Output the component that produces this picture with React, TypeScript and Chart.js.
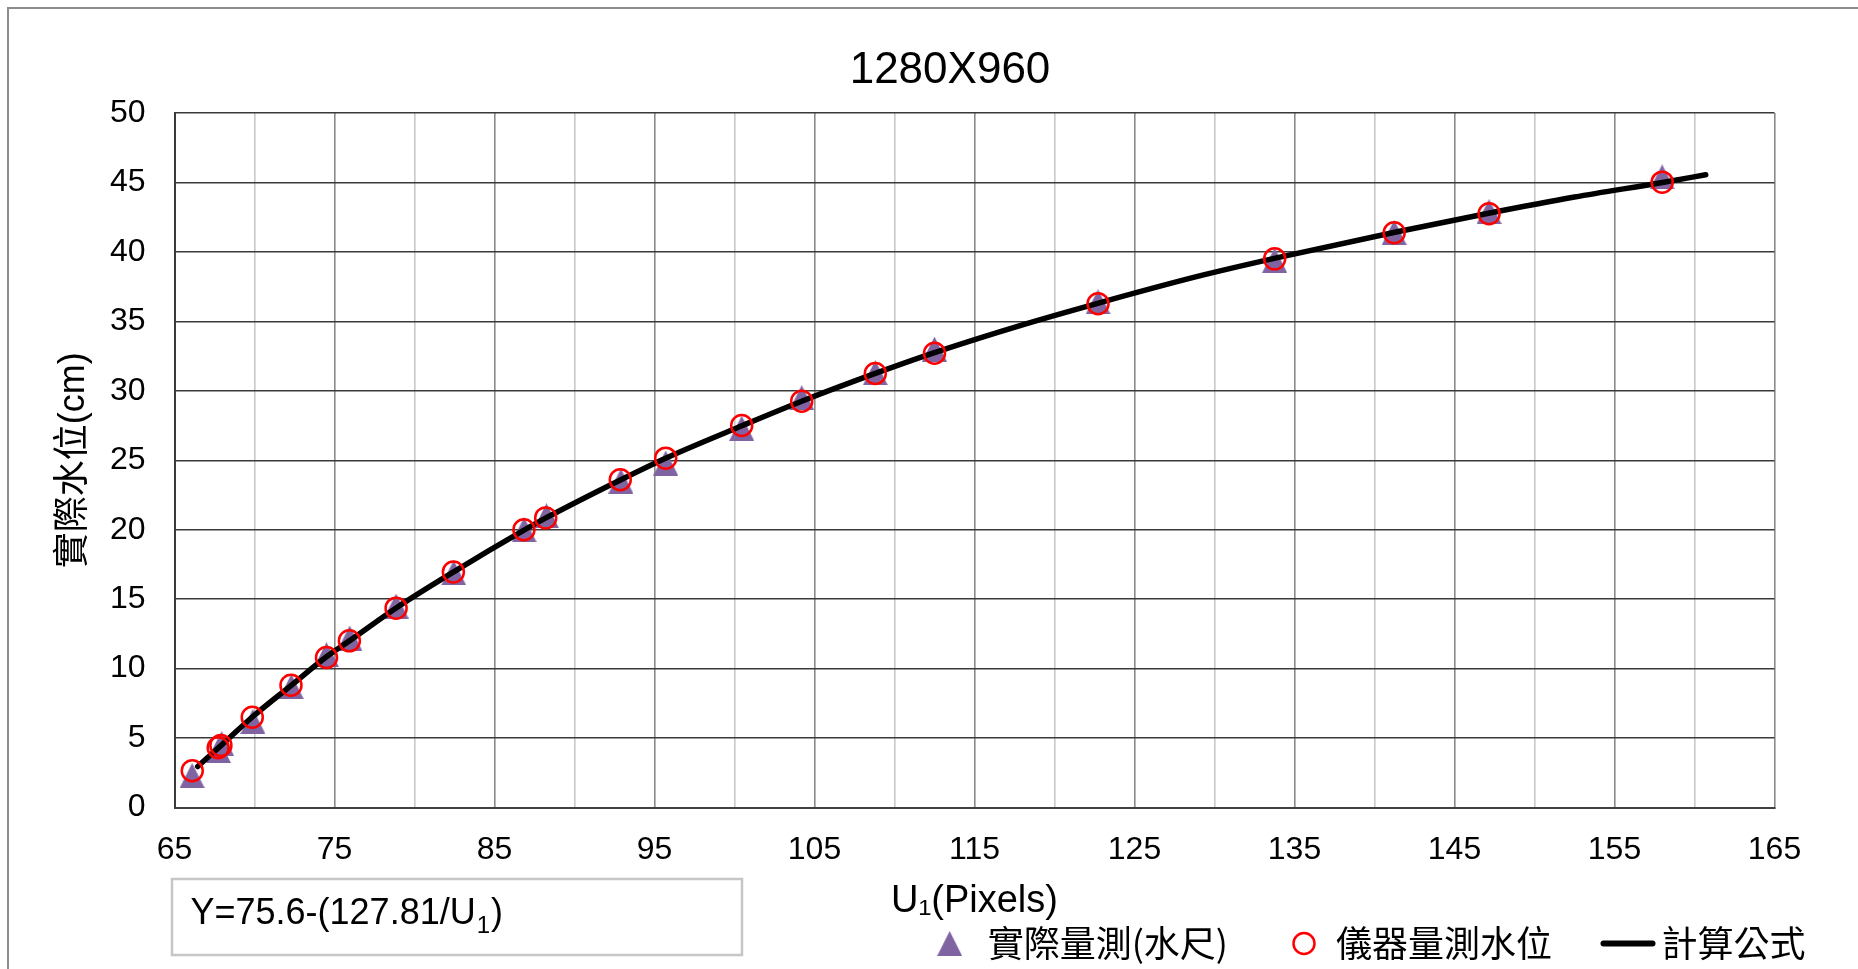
import React, { useEffect, useRef } from 'react';
import { Chart, registerables } from 'chart.js';

Chart.register(...registerables);

// ---- text ----
const chartTitle = '1280X960';
const xAxisTitle = 'U\u2081(Pixels)';
const yAxisTitle = '實際水位(cm)';
const seriesNames = ['實際量測(水尺)', '儀器量測水位', '計算公式'];
const formulaMain = 'Y=75.6-(127.81/U';
const formulaSub = '1';
const formulaTail = ')';

// ---- axes ----
const xMin = 65;
const xMax = 165;
const xStep = 5;
const xLabelEvery = 10;
const yMin = 0;
const yMax = 50;
const yStep = 5;

// ---- 實際量測(水尺): staff-gauge readings ----
const gaugeU = [66.1, 67.75, 67.95, 69.9, 72.3, 74.5, 75.95, 78.85, 82.45, 86.85, 88.25, 92.9, 95.7, 100.45, 104.2, 108.8, 112.5, 122.72, 133.76, 141.23, 147.16, 157.98];
const gaugeLevel = [2.3, 4.1, 4.6, 6.2, 8.7, 11.0, 12.2, 14.5, 16.9, 20.0, 21.0, 23.5, 24.8, 27.3, 29.5, 31.3, 33.0, 36.4, 39.4, 41.4, 42.9, 45.4];

// ---- 儀器量測水位: instrument readings ----
const sensorU = [66.11, 67.73, 67.9, 69.86, 72.28, 74.5, 75.93, 78.85, 82.43, 86.84, 88.2, 92.86, 95.7, 100.45, 104.2, 108.8, 112.5, 122.72, 133.76, 141.23, 147.16, 157.98];
const sensorLevel = [2.65, 4.3, 4.47, 6.5, 8.8, 10.8, 12.0, 14.35, 16.95, 20.0, 20.85, 23.6, 25.15, 27.5, 29.25, 31.25, 32.7, 36.27, 39.5, 41.38, 42.75, 45.02];

// ---- 計算公式: fitted curve ----
const formulaU = [66.45, 67.85, 69.9, 72.3, 74.5, 76.0, 78.9, 82.5, 86.9, 88.3, 92.9, 95.7, 100.5, 104.2, 108.8, 112.5, 118.0, 122.7, 129.0, 133.8, 141.2, 147.2, 152.5, 158.0, 160.7];
const formulaLevel = [2.95, 4.4, 6.55, 8.8, 10.85, 12.05, 14.4, 17.0, 20.0, 20.9, 23.6, 25.15, 27.5, 29.25, 31.25, 32.75, 34.75, 36.3, 38.25, 39.55, 41.4, 42.8, 43.95, 45.0, 45.55];

const latinFont = "'Liberation Sans', Arial, 'DejaVu Sans', sans-serif";
const cjkFont = "'Noto Sans CJK TC', 'Noto Sans CJK SC', sans-serif";
const mixedFont = "'Liberation Sans', 'Noto Sans CJK TC', 'DejaVu Sans', sans-serif";

const purple = '#8064a2';
const red = '#ff0000';

const toPoints = (xs: number[], ys: number[]) => xs.map((x, i) => ({ x, y: ys[i] }));

function makeTriangle(w: number, h: number, color: string) {
  const c = document.createElement('canvas');
  c.width = w;
  c.height = h;
  const g = c.getContext('2d')!;
  g.fillStyle = color;
  g.beginPath();
  g.moveTo(w / 2, 0);
  g.lineTo(w, h);
  g.lineTo(0, h);
  g.closePath();
  g.fill();
  return c;
}

const tri = makeTriangle(25, 25, purple);

// Bottom key row and the formula box underneath the plot.
const keyAndFormula = {
  id: 'keyAndFormula',
  afterDraw(chart: any) {
    const { ctx, chartArea } = chart;
    ctx.save();

    // formula box
    const bx = chartArea.left - 2.5;
    const by = 870;
    ctx.strokeStyle = '#c6c6c6';
    ctx.lineWidth = 2.5;
    ctx.strokeRect(bx, by, 570, 76);
    ctx.fillStyle = '#000';
    ctx.textBaseline = 'alphabetic';
    ctx.textAlign = 'left';
    ctx.font = `36px ${latinFont}`;
    let tx = bx + 18.5;
    const base = 915;
    ctx.fillText(formulaMain, tx, base);
    tx += ctx.measureText(formulaMain).width;
    ctx.font = `24px ${latinFont}`;
    ctx.fillText(formulaSub, tx + 1, base + 9);
    tx += ctx.measureText(formulaSub).width + 2;
    ctx.font = `36px ${latinFont}`;
    ctx.fillText(formulaTail, tx, base);

    // key row
    ctx.font = `36px ${cjkFont}`;
    ctx.textBaseline = 'middle';
    const cy = 934.5;
    const widths = seriesNames.map((t) => ctx.measureText(t).width);
    const end = chartArea.right + 31;
    const t3 = end - widths[2];
    const lineEnd = t3 - 6;
    const lineStart = lineEnd - 55;
    const lineMid = (lineStart + lineEnd) / 2;
    const t2 = lineMid - 76 - widths[1];
    const c2 = t2 - 32;
    const t1 = c2 - 76 - widths[0];
    const c1 = t1 - 38;

    ctx.drawImage(tri, c1 - tri.width / 2, cy - tri.height / 2);
    ctx.fillText(seriesNames[0], t1, cy);

    ctx.beginPath();
    ctx.arc(c2, cy, 10.5, 0, Math.PI * 2);
    ctx.strokeStyle = red;
    ctx.lineWidth = 2.5;
    ctx.stroke();
    ctx.fillText(seriesNames[1], t2, cy);

    ctx.beginPath();
    ctx.moveTo(lineStart + 3, cy);
    ctx.lineTo(lineEnd - 3, cy);
    ctx.strokeStyle = '#000';
    ctx.lineWidth = 6;
    ctx.lineCap = 'round';
    ctx.stroke();
    ctx.fillText(seriesNames[2], t3, cy);

    ctx.restore();
  },
};

export default function App() {
  const canvasRef = useRef<HTMLCanvasElement | null>(null);

  useEffect(() => {
    const canvas = canvasRef.current;
    if (!canvas) return;
    const chart = new Chart(canvas, {
      type: 'scatter',
      data: {
        datasets: [
          {
            label: seriesNames[1],
            data: toPoints(sensorU, sensorLevel),
            pointStyle: 'circle',
            pointRadius: 10.5,
            pointBorderColor: red,
            pointBorderWidth: 2.5,
            pointBackgroundColor: 'rgba(0,0,0,0)',
            showLine: false,
            order: 0,
          },
          {
            label: seriesNames[2],
            data: toPoints(formulaU, formulaLevel),
            showLine: true,
            borderColor: '#000',
            borderWidth: 5.5,
            borderCapStyle: 'round',
            pointRadius: 0,
            cubicInterpolationMode: 'monotone',
            order: 1,
          },
          {
            label: seriesNames[0],
            data: toPoints(gaugeU, gaugeLevel),
            pointStyle: tri,
            pointRadius: 12,
            showLine: false,
            order: 2,
          },
        ],
      } as any,
      options: {
        animation: false,
        responsive: false,
        devicePixelRatio: 1,
        layout: { padding: { left: 46, right: 0, top: 0, bottom: 0 } },
        plugins: {
          legend: { display: false },
          tooltip: { enabled: false },
          title: {
            display: true,
            text: chartTitle,
            color: '#000',
            font: { family: latinFont, size: 44, weight: 'normal', lineHeight: 1.2 },
            padding: { top: 35.6, bottom: 15.6 },
          },
        },
        scales: {
          x: {
            type: 'linear',
            min: xMin,
            max: xMax,
            afterFit: (s: any) => {
              s.height = 161.5;
              s.paddingRight = 70.5;
            },
            ticks: {
              stepSize: xStep,
              autoSkip: false,
              maxRotation: 0,
              color: '#000',
              padding: 23,
              font: { family: latinFont, size: 32 },
              callback: (v: any) => ((Number(v) - xMin) % xLabelEvery === 0 ? String(v) : ''),
            },
            grid: {
              drawTicks: false,
              lineWidth: 1.6,
              color: (c: any) =>
                c.tick && (c.tick.value - xMin) % xLabelEvery === 0 ? '#8a8a8a' : '#c8c8c8',
            },
            border: { color: '#404040', width: 2 },
            title: {
              display: true,
              text: xAxisTitle,
              color: '#000',
              font: { family: latinFont, size: 38, lineHeight: 1.2 },
              padding: { top: 0, bottom: 45 },
            },
          },
          y: {
            type: 'linear',
            min: yMin,
            max: yMax,
            afterFit: (s: any) => {
              s.width = 119.5;
            },
            ticks: {
              stepSize: yStep,
              color: '#000',
              padding: 29,
              font: { family: latinFont, size: 32 },
            },
            grid: { drawTicks: false, lineWidth: 1.4, color: '#3a3a3a' },
            border: { color: '#3a3a3a', width: 2 },
            title: {
              display: true,
              text: yAxisTitle,
              color: '#000',
              font: { family: mixedFont, size: 36, lineHeight: 1.05 },
              padding: 0,
            },
          },
        },
      } as any,
      plugins: [keyAndFormula],
    });
    return () => chart.destroy();
  }, []);

  return (
    <div style={{ position: 'fixed', left: 7, top: 7, right: 0, bottom: 0, overflow: 'hidden', background: '#fff' }}>
      <div style={{ width: 1900, height: 1100, border: '2px solid #8c8c8c', background: '#fff' }}>
        <canvas ref={canvasRef} width={1836} height={960} style={{ display: 'block', width: 1836, height: 960 }} />
      </div>
    </div>
  );
}
